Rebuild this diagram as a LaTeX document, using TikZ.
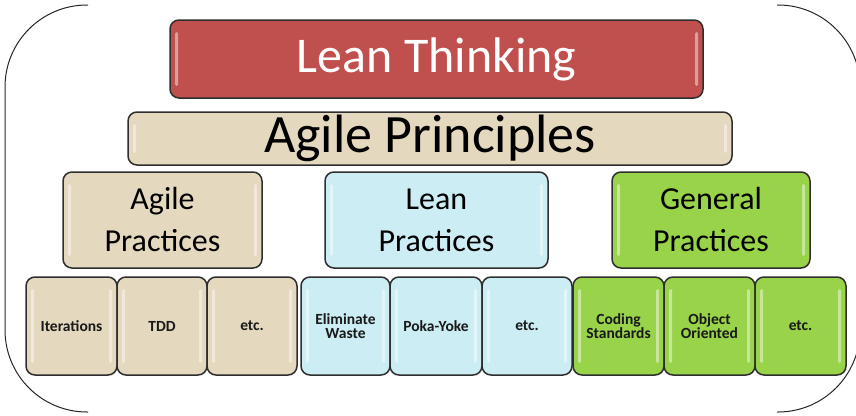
\documentclass[tikz,border=0pt]{standalone}
\usepackage{fontspec}
\setmainfont{Carlito}
\definecolor{ltred}{HTML}{C0504D}
\definecolor{beige}{HTML}{E4D8BE}
\definecolor{lblue}{HTML}{CBEDF3}
\definecolor{lgreen}{HTML}{98D34A}
\definecolor{edge}{HTML}{2E2E2E}
\tikzset{
  box/.style={draw=edge, line width=1.5pt, rounded corners=9pt, inner sep=0pt, align=center,
    path picture={
      \fill[white,opacity=0.45,rounded corners=1.5pt] ([xshift=5pt,yshift=-12pt]path picture bounding box.north west) rectangle ([xshift=8pt,yshift=12pt]path picture bounding box.south west);
      \fill[white,opacity=0.45,rounded corners=1.5pt] ([xshift=-8pt,yshift=-12pt]path picture bounding box.north east) rectangle ([xshift=-5pt,yshift=12pt]path picture bounding box.south east);
    }},
  bigtxt/.style={font=\fontsize{32}{42}\selectfont},
  smalltxt/.style={font=\fontsize{15.5}{14.5}\selectfont\bfseries, text=black!90},
  bottom/.style={box, smalltxt, minimum height=98pt},
  frame/.style={draw=black!85, line width=1pt, rounded corners=82pt}
}
\begin{document}
\begin{tikzpicture}[x=1pt,y=-1pt]
\useasboundingbox (0,0) rectangle (856,415);
\clip (0,0) rectangle (856,415);
% outer bracket frame
\draw[frame] (88,5) -- (5,5) -- (5,412) -- (88,412);
\draw[frame] (777,5) -- (860,5) -- (860,412) -- (777,412);
% top rows
\node[box, fill=ltred, text=white, minimum width=533pt, minimum height=78pt, font=\fontsize{50}{50}\selectfont] (lt) at (436.5,59) {Lean Thinking};
\node[box, fill=beige, text=black, minimum width=604pt, minimum height=53pt, font=\fontsize{54}{54}\selectfont] (ap) at (430,138.5) {Agile Principles};
% middle row
\node[box, fill=beige, bigtxt, minimum width=199pt, minimum height=96pt] (agp) at (162.5,220) {Agile\\Practices};
\node[box, fill=lblue, bigtxt, minimum width=223pt, minimum height=96pt] (lnp) at (436.5,220) {Lean\\Practices};
\node[box, fill=lgreen, bigtxt, minimum width=198pt, minimum height=96pt] (gnp) at (711,220) {General\\Practices};
% bottom row
\node[bottom, fill=beige, minimum width=91pt] (it) at (71.5,326) {Iterations};
\node[bottom, fill=beige, minimum width=90pt] (tdd) at (162,326) {TDD};
\node[bottom, fill=beige, minimum width=90pt] (etca) at (252,326) {etc.};
\node[bottom, fill=lblue, minimum width=89pt] (ew) at (345.5,326) {Eliminate\\Waste};
\node[bottom, fill=lblue, minimum width=92pt] (py) at (436,326) {Poka-Yoke};
\node[bottom, fill=lblue, minimum width=90pt] (etcb) at (527,326) {etc.};
\node[bottom, fill=lgreen, minimum width=91pt] (cs) at (618.5,326) {Coding\\Standards};
\node[bottom, fill=lgreen, minimum width=91pt] (oo) at (709.5,326) {Object\\Oriented};
\node[bottom, fill=lgreen, minimum width=91pt] (etcc) at (800.5,326) {etc.};
\end{tikzpicture}
\end{document}
